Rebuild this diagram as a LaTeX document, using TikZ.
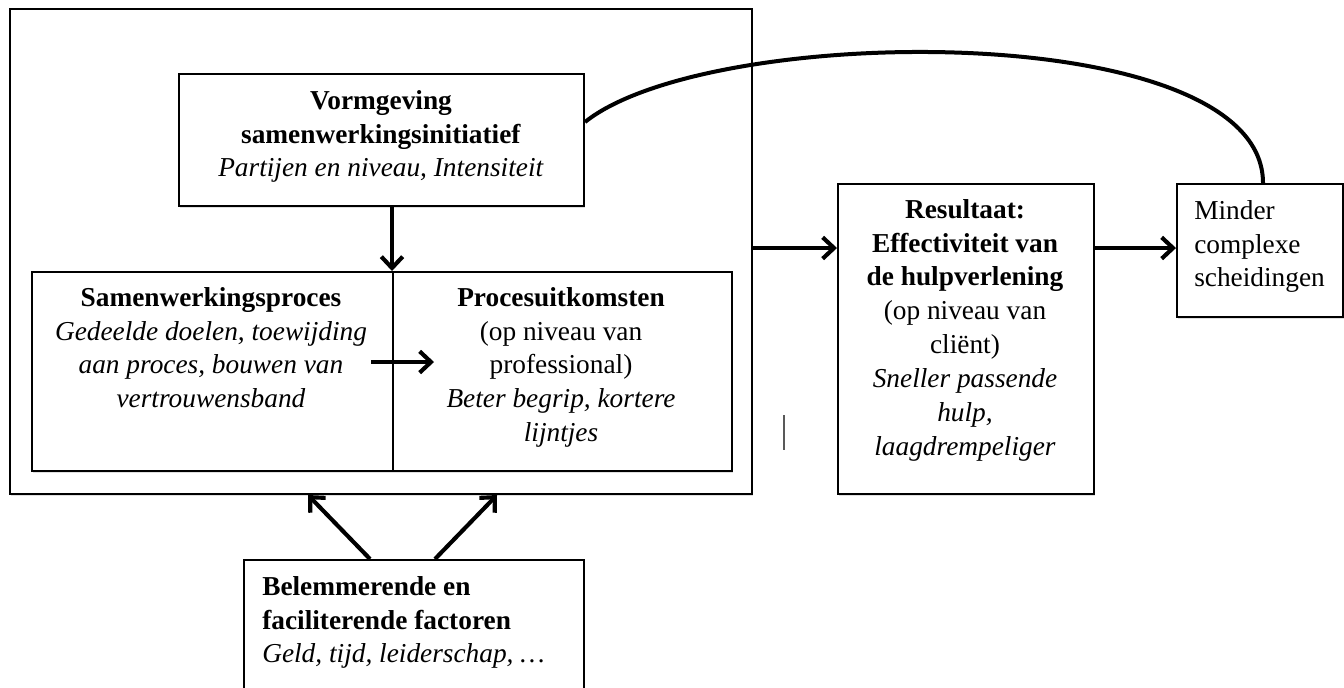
\documentclass[tikz,border=0pt]{standalone}
\usepackage{fontspec}
\setmainfont{Liberation Serif}
\usetikzlibrary{arrows.meta,shadows}
\begin{document}
\begin{tikzpicture}[x=0.75pt,y=-0.75pt,
  box/.style={draw=black,line width=1.5pt,fill=white,inner sep=0pt,
    drop shadow={shadow xshift=0.8pt,shadow yshift=-1.2pt,opacity=0.25}},
  txt/.style={inner sep=0pt,align=center,font=\fontsize{20.5}{25.4}\selectfont},
  ltxt/.style={inner sep=0pt,align=left,font=\fontsize{20.5}{25.4}\selectfont},
  conn/.style={line width=3.1pt,-{Straight Barb[length=8.5pt,width=16pt,line width=3.1pt]}},
  curve/.style={line width=3pt}]
\useasboundingbox (0,0) rectangle (1344,687);
\fill[white] (0,0) rectangle (1344,687);
% boxes
\node[box,minimum width=742*0.75pt,minimum height=485*0.75pt,anchor=north west] (outer) at (9,8) {};
\node[box,minimum width=405*0.75pt,minimum height=132*0.75pt,anchor=north west] (top) at (178,73) {};
\node[box,minimum width=361*0.75pt,minimum height=199*0.75pt,anchor=north west] (left) at (31,271) {};
\node[box,minimum width=339*0.75pt,minimum height=199*0.75pt,anchor=north west] (right) at (392,271) {};
\node[box,minimum width=256*0.75pt,minimum height=310*0.75pt,anchor=north west] (res) at (837,183) {};
\node[box,minimum width=166*0.75pt,minimum height=133*0.75pt,anchor=north west] (mind) at (1176,183) {};
\node[box,minimum width=340*0.75pt,minimum height=140*0.75pt,anchor=north west] (fac) at (243,559) {};
% texts
\node[txt,anchor=north] (toptxt) at (381,90) {\textbf{Vormgeving}\\\textbf{samenwerkingsinitiatief}\\\textit{Partijen en niveau, Intensiteit}};
\node[txt,anchor=north] (lefttxt) at (211,287) {\textbf{Samenwerkingsproces}\\\textit{Gedeelde doelen, toewijding}\\\textit{aan proces, bouwen van}\\\textit{vertrouwensband}};
\node[txt,anchor=north] (righttxt) at (561,287) {\textbf{Procesuitkomsten}\\(op niveau van\\professional)\\\textit{Beter begrip, kortere}\\\textit{lijntjes}};
\node[txt,anchor=north] (restxt) at (965,199) {\textbf{Resultaat:}\\\textbf{Effectiviteit van}\\\textbf{de hulpverlening}\\(op niveau van\\cliënt)\\\textit{Sneller passende}\\\textit{hulp,}\\\textit{laagdrempeliger}};
\node[ltxt,anchor=north west] (mindtxt) at (1194,200) {Minder\\complexe\\scheidingen};
\node[ltxt,anchor=north west] (factxt) at (262,576) {\textbf{Belemmerende en}\\\textbf{faciliterende factoren}\\\textit{Geld, tijd, leiderschap, \dots}};
% connectors
\coordinate (ay) at (0,248);
\draw[conn] (top.south -| right.west) -- (right.north west);
\coordinate (ia) at (371,362);
\coordinate (ib) at (434,362);
\draw[conn] (ia) -- (ib);
\draw[conn] (outer.east |- ay) -- (res.west |- ay);
\draw[conn] (res.east |- ay) -- (mind.west |- ay);
\draw[conn] (fac.north -| 370,0) -- (outer.south -| 308,0);
\draw[conn] (fac.north -| 435,0) -- (outer.south -| 497,0);
\draw[curve] (top.east |- 0,122) .. controls (710,22) and (1263,18) .. (mind.north -| 1263,0);
% stray mark
\draw[gray!70!black,line width=1.2pt] (784,415) -- (784,450);
\end{tikzpicture}
\end{document}
